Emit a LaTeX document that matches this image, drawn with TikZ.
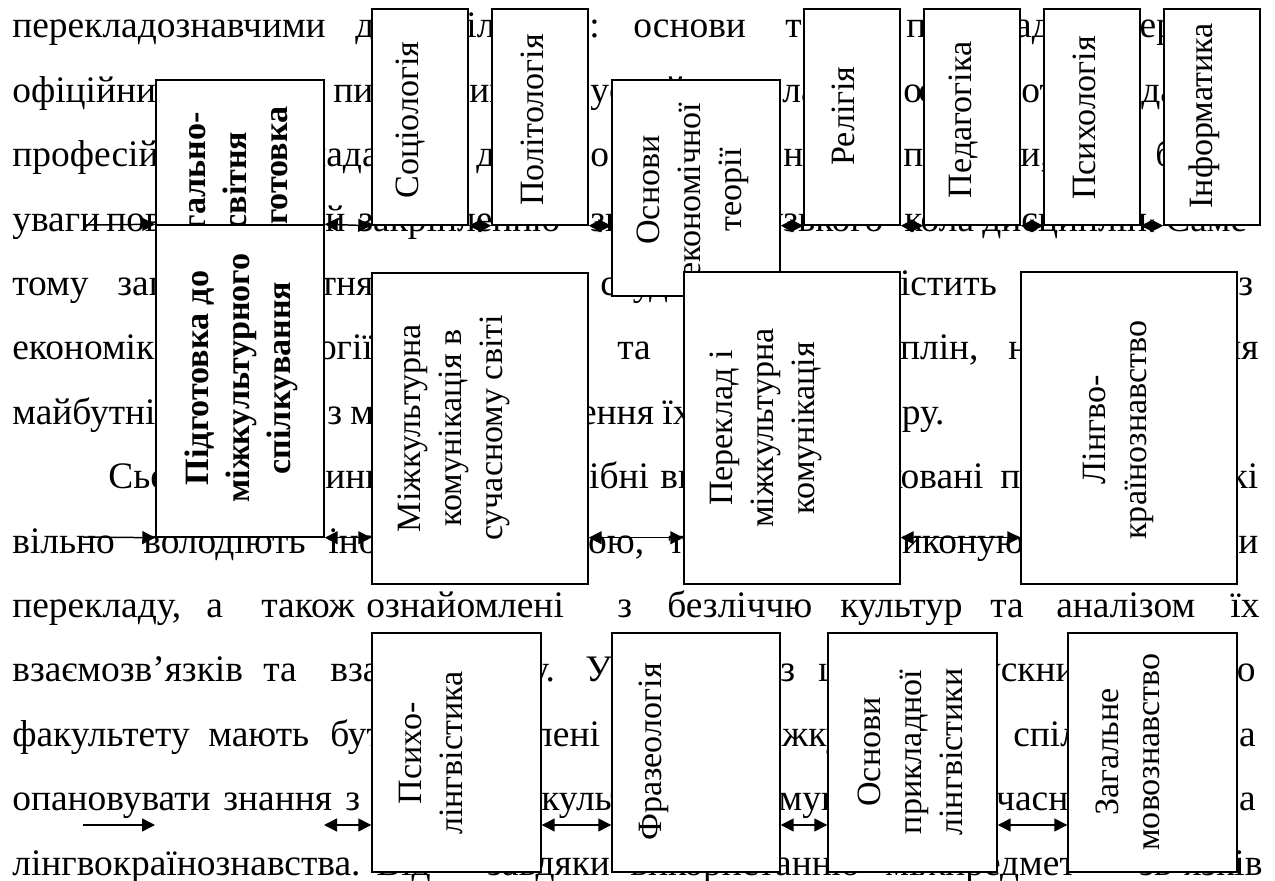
\documentclass[tikz,border=0pt]{standalone}
\usepackage{fontspec}
\setmainfont{Liberation Serif}
\usetikzlibrary{arrows.meta,positioning}

\newcommand{\bodyfont}{\fontsize{21.3}{25}\selectfont}
\newcommand{\boxfont}{\fontsize{19.4}{23.3}\selectfont}

\begin{document}
\begin{tikzpicture}[
  x=0.02cm, y=-0.02cm,
  txt/.style={anchor=base west, inner sep=0pt, font=\bodyfont},
  block/.style={rectangle, draw, fill=white, line width=0.85pt, inner sep=0pt},
  vlabel/.style={rotate=90, align=center, inner sep=0pt, font=\boxfont},
  bvlabel/.style={vlabel, font=\boxfont\bfseries},
  arrow/.style={line width=0.85pt, -{Triangle[length=2.6mm, width=2.6mm]}},
  biarrow/.style={line width=0.85pt, {Triangle[length=2.6mm, width=2.6mm]}-{Triangle[length=2.6mm, width=2.6mm]}}
]

\fill[white] (0,0) rectangle (1275,881);
\useasboundingbox (0,0) rectangle (1275,881);

% page text behind the scheme
\foreach \x/\w in {12/перекладознавчими, 355/дисц, 466/іл, 589/:, 633/основи, 785/теорії, 906/{перекладу,}, 1123/терміно}
  \node[txt] (l1-\x) at (\x,38) {\w};
\foreach \x/\w in {12/офіційних, 333/пись, 469/ин, 590/усний, 782/лад, 903/о, 918/с, 1021/отр, 1141/дан}
  \node[txt] (l2-\x) at (\x,102.4) {\w};
\foreach \x/\w in {12/професійна, 306/надає, 476/до, 590/осв, 783/на, 903/пи, 1020/{и,}, 1155/бі}
  \node[txt] (l3-\x) at (\x,166.8) {\w};
\foreach \x/\w in {12/уваги, 106/пов, 325/й, 358/закріпленню, 590/знань, 748/вузького, 904/кола, 982/дисциплін., 1165/Саме}
  \node[txt] (l4-\x) at (\x,231.2) {\w};
\foreach \x/\w in {12/тому, 117/загальноосвітня, 600/студентів, 876/містить, 1238/з}
  \node[txt] (l5-\x) at (\x,295.6) {\w};
\foreach \x/\w in {12/економіки, 215/соціології, 617/та, 804/{дисциплін,}, 1008/необхідних, 1221/ня}
  \node[txt] (l6-\x) at (\x,360) {\w};
\foreach \x/\w in {12/майбутніх, 327/з, 350/метою, 460/розширення, 662/їх, 780/кругозору.}
  \node[txt] (l7-\x) at (\x,424.4) {\w};
\foreach \x/\w in {108/Сьогодні, 325/ини, 515/потрібні, 660/висококваліфіковані, 1000/перекладачі, 1212/які}
  \node[txt] (l8-\x) at (\x,488.8) {\w};
\foreach \x/\w in {12/вільно, 143/володіють, 328/іноземною, 528/{мовою,}, 668/та, 884/виконують, 1238/и}
  \node[txt] (l9-\x) at (\x,553.2) {\w};
\foreach \x/\w in {12/{перекладу,}, 206/а, 261/також, 366/ознайомлені, 617/з, 667/безліччю, 840/культур, 990/та, 1056/аналізом, 1230/їх}
  \node[txt] (l10-\x) at (\x,617.6) {\w};
\foreach \x/\w in {12/взаємозв’язків, 263/та, 330/взаємовпливу., 585/У, 780/з, 818/цим, 924/випускники, 1222/го}
  \node[txt] (l11-\x) at (\x,682) {\w};
\foreach \x/\w in {12/факультету, 208/мають, 330/бути, 400/підготовлені, 748/міжкуль, 1013/спілкування, 1222/та}
  \node[txt] (l12-\x) at (\x,746.4) {\w};
\foreach \x/\w in {12/опановувати, 223/знання, 345/з, 481/міжкультурної, 744/комунікації, 961/сучасного, 1222/та}
  \node[txt] (l13-\x) at (\x,810.8) {\w};
\foreach \x/\w in {12/лінгвокраїнознавства., 376/Від, 487/завдяки, 630/використанню, 885/міжпредмет, 1139/зв’язків}
  \node[txt] (l14-\x) at (\x,875.2) {\w};

% blocks, top row
\node[block, minimum width=3.36cm, minimum height=4.8cm] (zag) at (240,200) {};
\node[bvlabel] (zag-l) at (238,189) {Загально-\\освітня\\підготовка};
\node[block, minimum width=3.36cm, minimum height=6.24cm] (pidg) at (240,381) {};
\node[bvlabel] (pidg-l) at (241,378) {Підготовка до\\міжкультурного\\спілкування};
\node[block, minimum width=1.92cm, minimum height=4.32cm] (soc) at (420,117) {};
\node[vlabel] (soc-l) at (411,120) {Соціологія};
\node[block, minimum width=1.92cm, minimum height=4.32cm] (pol) at (540,117) {};
\node[vlabel] (pol-l) at (532,120) {Політологія};
\node[block, minimum width=3.36cm, minimum height=4.32cm] (ekon) at (696,188) {};
\node[vlabel] (ekon-l) at (693,190) {Основи\\економічної\\теорії};
\node[block, minimum width=1.92cm, minimum height=4.32cm] (rel) at (852,117) {};
\node[vlabel] (rel-l) at (843,116) {Релігія};
\node[block, minimum width=1.92cm, minimum height=4.32cm] (ped) at (972,117) {};
\node[vlabel] (ped-l) at (964,120) {Педагогіка};
\node[block, minimum width=1.92cm, minimum height=4.32cm] (psych) at (1092,117) {};
\node[vlabel] (psych-l) at (1084,118) {Психологія};
\node[block, minimum width=1.92cm, minimum height=4.32cm] (inf) at (1212,117) {};
\node[vlabel] (inf-l) at (1204,116) {Інформатика};

% middle row
\node[block, minimum width=4.32cm, minimum height=6.22cm] (mk) at (480,428.5) {};
\node[vlabel] (mk-l) at (454,428) {Міжкультурна\\комунікація в\\сучасному світі};
\node[block, minimum width=4.32cm, minimum height=6.24cm] (per) at (792,428) {};
\node[vlabel] (per-l) at (766,428) {Переклад і\\міжкультурна\\комунікація};
\node[block, minimum width=4.32cm, minimum height=6.24cm] (lin) at (1129,428) {};
\node[vlabel] (lin-l) at (1118,430) {Лінгво-\\країнознавство};

% bottom row
\node[block, minimum width=3.38cm, minimum height=4.78cm] (psl) at (456.5,752.5) {};
\node[vlabel] (psl-l) at (431,753) {Психо-\\лінгвістика};
\node[block, minimum width=3.36cm, minimum height=4.78cm] (fraz) at (696,752.5) {};
\node[vlabel] (fraz-l) at (654,752) {Фразеологія};
\node[block, minimum width=3.38cm, minimum height=4.78cm] (prik) at (912.5,752.5) {};
\node[vlabel] (prik-l) at (910,752) {Основи\\прикладної\\лінгвістики};
\node[block, minimum width=3.38cm, minimum height=4.78cm] (zagm) at (1152.5,752.5) {};
\node[vlabel] (zagm-l) at (1128,752) {Загальне\\мовознавство};

% connectors
\coordinate (in1) at (85,225);
\coordinate (in2) at (83,537);
\coordinate (in3) at (83,825);
\coordinate (out3) at (155,825);
\coordinate (gap3) at (324,825);

\draw[arrow] (in1) -- (pidg.north west);
\draw[biarrow] (pidg.north east) -- (soc.south west);
\draw[biarrow] (soc.south east) -- (pol.south west);
\draw[biarrow] (pol.south east) -- (ekon.west |- pol.south);
\draw[biarrow] (ekon.east |- rel.south) -- (rel.south west);
\draw[biarrow] (rel.south east) -- (ped.south west);
\draw[biarrow] (ped.south east) -- (psych.south west);
\draw[biarrow] (psych.south east) -- (inf.south west);

\draw[arrow] (in2) -- (pidg.south west);
\draw[biarrow] (pidg.south east) -- (mk.west |- pidg.south);
\draw[biarrow] (mk.east |- pidg.south) -- (per.west |- pidg.south);
\draw[biarrow] (per.east |- pidg.south) -- (lin.west |- pidg.south);

\draw[arrow] (in3) -- (out3);
\draw[biarrow] (gap3) -- (psl.west |- gap3);
\draw[biarrow] (psl.east |- gap3) -- (fraz.west |- gap3);
\draw[biarrow] (fraz.east |- gap3) -- (prik.west |- gap3);
\draw[biarrow] (prik.east |- gap3) -- (zagm.west |- gap3);

\end{tikzpicture}
\end{document}
